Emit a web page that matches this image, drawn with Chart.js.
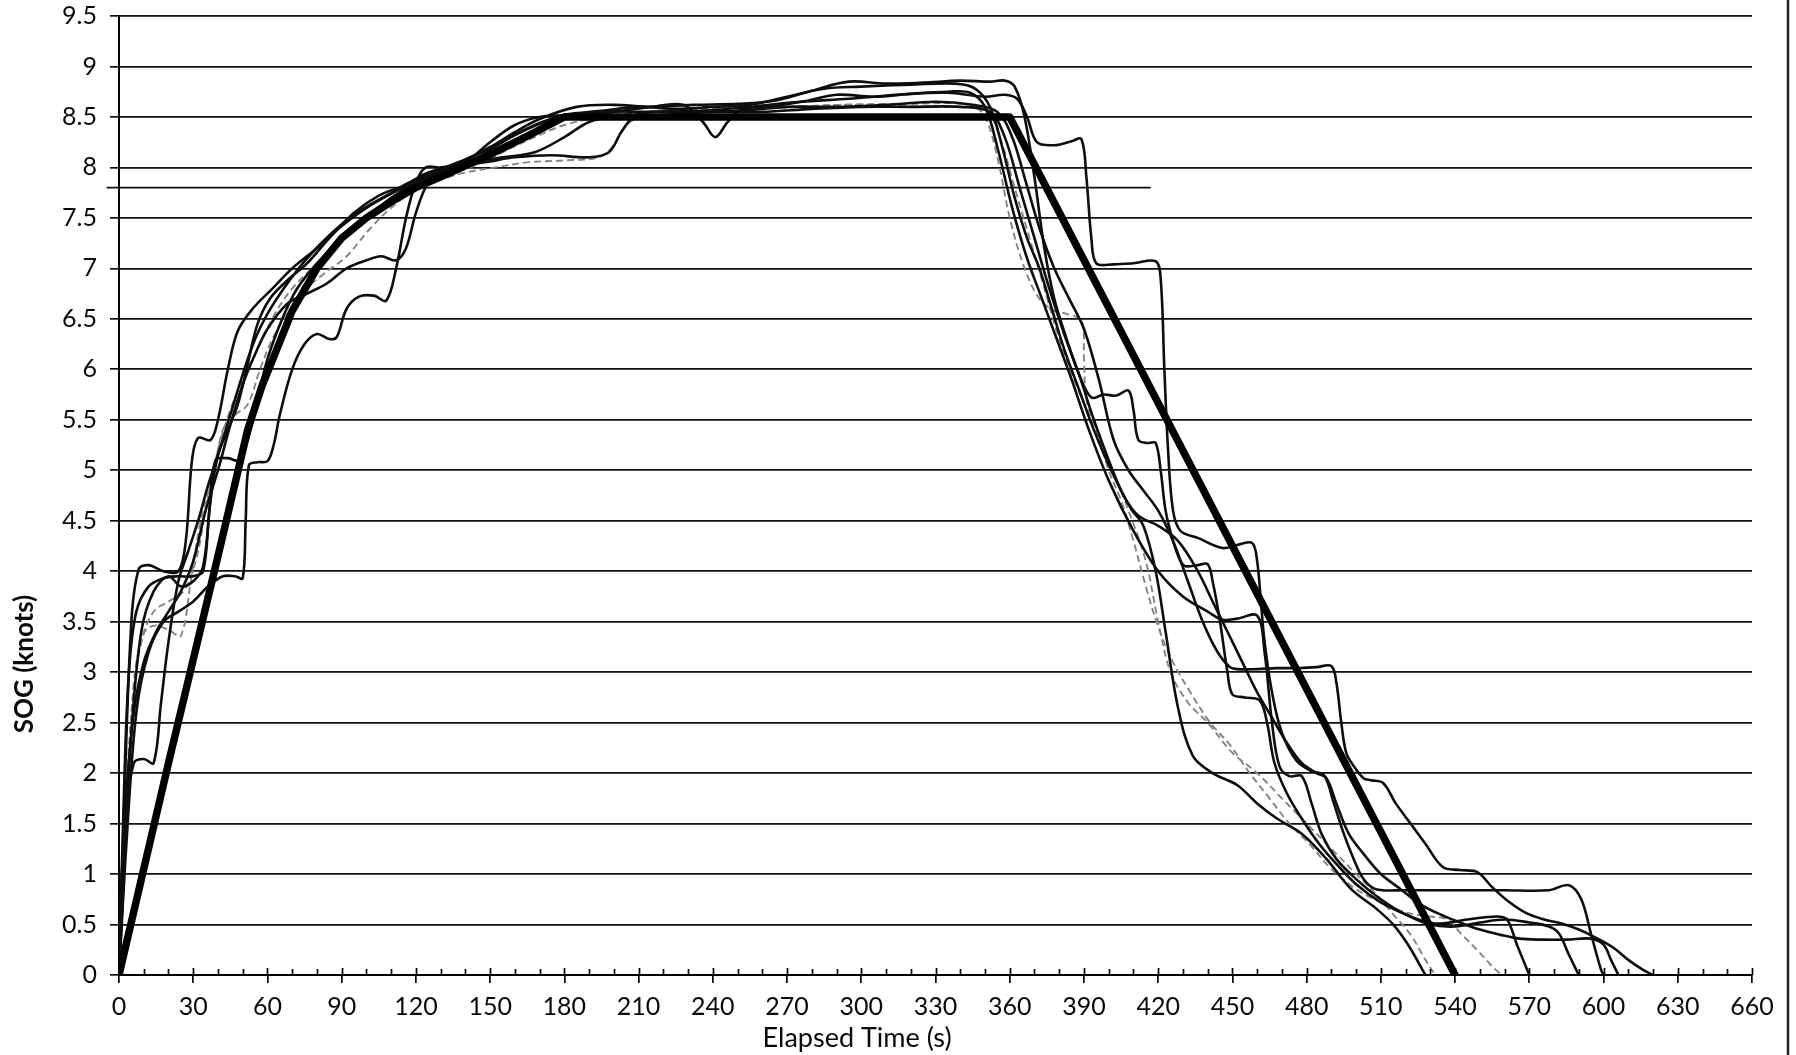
<!DOCTYPE html>
<html>
<head>
<meta charset="utf-8">
<title>SOG vs Elapsed Time</title>
<script src="https://cdn.jsdelivr.net/npm/chart.js@4/dist/chart.umd.min.js"></script>
<style>
  html, body { margin: 0; padding: 0; background: #fff; }
  #wrap { width: 1796px; height: 1055px; position: relative; }
  canvas { display: block; }
</style>
</head>
<body>
<div id="wrap"><canvas id="c"></canvas></div>
<script>
// Axis ticks and titles
const xTicks = [0, 30, 60, 90, 120, 150, 180, 210, 240, 270, 300, 330, 360, 390, 420, 450, 480, 510, 540, 570, 600, 630, 660];
const yTicks = [0, 0.5, 1, 1.5, 2, 2.5, 3, 3.5, 4, 4.5, 5, 5.5, 6, 6.5, 7, 7.5, 8, 8.5, 9, 9.5];
const xTitle = 'Elapsed Time (s)';
const yTitle = 'SOG (knots)';

// Target speed profile: [time s, SOG knots]
const target = [[0,0],[20,2.1],[40,4.15],[52,5.4],[58,5.85],[63,6.15],[70,6.58],[80,7.0],[90,7.3],[100,7.5],[110,7.66],[120,7.8],[135,7.96],[150,8.13],[165,8.31],[180,8.5],[360,8.5],[540,0]];

// Recorded runs: [time s, SOG knots]
const runA = [[0,0],[2,1.6],[5,3.5],[8,4.02],[12,4.06],[18,4.0],[24,4.0],[27,4.3],[29.5,5.1],[32,5.32],[37,5.3],[40,5.5],[44,6.0],[48,6.38],[54,6.6],[62,6.8],[70,7.0],[80,7.2],[90,7.42],[100,7.6],[110,7.74],[120,7.86],[130,7.98],[140,8.08],[150,8.18],[160,8.32],[170,8.44],[180,8.52],[195,8.56],[210,8.6],[225,8.58],[240,8.6],[255,8.62],[270,8.7],[285,8.78],[300,8.8],[320,8.82],[338,8.83],[346,8.78],[352,8.6],[357,8.2],[362,7.7],[367,7.3],[372,7.0],[377,6.6],[382,6.2],[388,5.8],[394,5.4],[401,5.0],[409,4.62],[414,4.45],[419,4.0],[423,3.4],[428,2.65],[434,2.17],[442,2.0],[452,1.88],[460,1.7],[468,1.55],[478,1.4],[488,1.15],[498,0.85],[508,0.66],[515,0.5],[521,0.3],[528,0]];

const runB = [[0,0],[1,0.9],[3,1.6],[6,2.1],[10,2.14],[14,2.1],[17,2.7],[20,3.3],[24,3.9],[28,4.2],[32,4.5],[36,4.85],[40,5.15],[45,5.55],[50,5.95],[55,6.3],[60,6.55],[68,6.85],[76,7.1],[86,7.35],[96,7.55],[108,7.72],[120,7.88],[135,8.02],[150,8.2],[165,8.38],[178,8.5],[195,8.55],[215,8.55],[235,8.56],[255,8.6],[275,8.65],[295,8.68],[315,8.72],[335,8.74],[350,8.7],[358,8.72],[363,8.68],[367,8.5],[371,8.25],[378,8.22],[385,8.26],[389,8.28],[391,7.9],[393,7.3],[395,7.05],[402,7.04],[410,7.05],[419,7.07],[421,6.9],[422.5,6.0],[424,5.2],[426,4.6],[429,4.4],[436,4.33],[446,4.23],[452,4.26],[458,4.28],[460,4.1],[461.5,3.7],[463,3.3],[466,2.8],[470,2.4],[476,2.12],[482,2.02],[487,1.98],[491,1.7],[495,1.4],[499,1.15],[503,0.95],[508,0.85],[520,0.84],[540,0.84],[560,0.84],[578,0.84],[586,0.89],[591,0.75],[595,0.4],[599,0.05],[600,0]];

const runC = [[0,0],[3,1.5],[6,2.9],[10,3.38],[14,3.46],[20,3.42],[25,3.36],[29,3.9],[33,4.5],[38,4.95],[42,5.4],[47,5.55],[52,5.65],[57,6.0],[62,6.3],[68,6.55],[75,6.78],[83,6.95],[92,7.12],[101,7.38],[110,7.6],[120,7.78],[130,7.88],[140,7.95],[152,8.0],[165,8.05],[180,8.07],[194,8.1],[200,8.22],[205,8.42],[212,8.5],[230,8.55],[260,8.58],[290,8.62],[320,8.63],[344,8.62],[350,8.5],[355,8.1],[360,7.5],[366,7.0],[372,6.7],[378,6.58],[383,6.55],[389,6.48],[390,6.1],[391,5.7],[395,5.4],[400,5.0],[405,4.7],[410,4.3],[415,3.85],[420,3.45],[426,3.1],[433,2.8],[441,2.5],[449,2.28],[457,2.0],[465,1.75],[473,1.5],[481,1.3],[490,1.05],[500,0.85],[510,0.72],[520,0.62],[530,0.58],[537,0.55],[542,0.42],[550,0.22],[556,0.06],[559,0]];

const runD = [[0,0],[2,1.2],[5,2.6],[9,3.3],[14,3.6],[20,3.7],[26,3.8],[31,4.1],[35,4.6],[40,5.2],[45,5.6],[50,5.9],[56,6.2],[63,6.55],[70,6.8],[80,7.05],[90,7.3],[100,7.5],[110,7.65],[120,7.8],[130,7.9],[142,8.0],[155,8.15],[168,8.3],[180,8.42],[195,8.5],[215,8.55],[240,8.58],[270,8.6],[300,8.62],[330,8.6],[345,8.6],[350,8.6],[356,8.3],[362,7.8],[368,7.3],[374,6.8],[380,6.3],[386,5.9],[393,5.5],[400,5.1],[408,4.6],[415,4.1],[420,3.5],[425,3.0],[432,2.7],[440,2.5],[450,2.2],[460,2.0],[470,1.75],[480,1.5],[490,1.25],[500,1.0],[508,0.8],[515,0.6],[522,0.4],[528,0.15],[532,0]];

const runE = [[0,0],[2,1.8],[4,3.0],[7,3.6],[12,3.85],[18,3.93],[24,3.95],[30,3.95],[34,4.0],[36.5,4.6],[39,5.1],[44,5.12],[48,5.1],[52,5.3],[56,5.7],[60,6.1],[66,6.5],[72,6.8],[80,7.05],[90,7.3],[100,7.5],[110,7.7],[120,7.85],[130,7.95],[140,8.05],[150,8.25],[160,8.42],[170,8.5],[185,8.52],[200,8.55],[215,8.6],[228,8.62],[236,8.45],[241,8.3],[246,8.45],[252,8.58],[262,8.6],[276,8.65],[290,8.72],[305,8.7],[320,8.73],[335,8.75],[344,8.74],[350,8.6],[355,8.2],[361,7.6],[367,7.1],[373,6.7],[379,6.3],[385,5.9],[392,5.4],[400,4.9],[410,4.4],[420,4.0],[430,3.75],[440,3.6],[446,3.52],[452,3.53],[460,3.56],[463,3.2],[466,2.5],[469,2.07],[473,1.97],[478,1.97],[482,1.7],[486,1.4],[492,1.15],[500,0.95],[510,0.75],[520,0.6],[532,0.51],[545,0.55],[557,0.58],[561,0.55],[565,0.3],[570,0]];

const runF = [[0,0],[2,1.0],[5,2.4],[9,3.4],[14,3.8],[20,3.95],[25,3.85],[30,3.9],[34,4.05],[37,4.7],[40,5.15],[44,5.4],[48,5.65],[52,6.05],[56,6.45],[61,6.7],[68,6.88],[76,7.05],[85,7.3],[95,7.55],[105,7.72],[115,7.82],[125,7.95],[138,8.05],[150,8.2],[160,8.35],[170,8.48],[185,8.6],[200,8.62],[215,8.6],[232,8.62],[250,8.63],[265,8.66],[280,8.76],[295,8.85],[310,8.83],[325,8.84],[340,8.86],[352,8.85],[358,8.86],[362,8.8],[366,8.5],[370,7.9],[374,7.2],[378,6.7],[383,6.3],[388,5.95],[393,5.72],[398,5.75],[403,5.74],[408,5.79],[410,5.6],[412,5.3],[416,5.27],[419,5.27],[421,5.0],[423,4.6],[426,4.3],[429,4.1],[431,4.05],[436,4.06],[440,4.07],[442,3.9],[445,3.5],[448,3.0],[450,2.78],[455,2.75],[461,2.72],[464,2.5],[467,2.1],[472,1.8],[478,1.55],[485,1.3],[492,1.1],[500,0.9],[510,0.72],[520,0.6],[530,0.5],[540,0.48],[550,0.52],[560,0.55],[570,0.52],[578,0.48],[582,0.41],[586,0.2],[590,0]];

const runG = [[0,0],[3,1.3],[7,2.6],[12,3.2],[18,3.5],[24,3.6],[30,3.7],[36,3.85],[42,3.95],[47,3.95],[50,3.93],[51.2,4.5],[52.5,5.05],[56,5.08],[60,5.09],[62.5,5.25],[65,5.55],[70,6.0],[75,6.25],[80,6.35],[85,6.3],[88,6.32],[92,6.6],[97,6.72],[103,6.73],[108,6.68],[112,7.0],[116,7.5],[120,7.85],[124,8.0],[130,8.0],[140,8.02],[150,8.06],[160,8.1],[175,8.12],[190,8.1],[198,8.15],[203,8.35],[208,8.5],[215,8.55],[230,8.55],[250,8.56],[270,8.6],[290,8.6],[310,8.62],[330,8.65],[345,8.62],[355,8.55],[361,8.3],[366,7.9],[372,7.4],[378,7.0],[384,6.7],[390,6.4],[396,5.9],[402,5.3],[408,5.0],[414,4.8],[420,4.6],[426,4.3],[432,3.9],[438,3.5],[444,3.2],[449,3.05],[452,3.03],[460,3.03],[468,3.04],[476,3.04],[484,3.05],[490,3.06],[492,2.9],[494,2.5],[496,2.2],[499,2.07],[503,1.95],[506,1.93],[511,1.9],[516,1.7],[522,1.5],[528,1.3],[535,1.07],[542,1.04],[549,1.02],[555,0.87],[562,0.72],[569,0.61],[576,0.55],[583,0.51],[590,0.45],[596,0.38],[604,0.27],[610,0.15],[616,0.05],[620,0]];

const runH = [[0,0],[1,0.8],[3,1.8],[6,2.6],[10,3.1],[15,3.4],[20,3.6],[25,3.8],[30,4.1],[35,4.6],[40,5.0],[45,5.45],[50,5.85],[55,6.15],[60,6.4],[68,6.65],[76,6.75],[84,6.85],[92,7.0],[100,7.08],[106,7.12],[112,7.08],[116,7.2],[120,7.55],[125,7.85],[132,8.0],[142,8.05],[155,8.1],[168,8.15],[180,8.3],[190,8.45],[200,8.5],[220,8.52],[240,8.55],[260,8.55],[280,8.58],[300,8.6],[320,8.6],[340,8.6],[352,8.55],[358,8.3],[364,7.8],[370,7.3],[376,6.8],[382,6.35],[388,5.95],[394,5.5],[400,5.1],[406,4.75],[412,4.55],[420,4.45],[428,4.3],[436,4.0],[442,3.7],[448,3.4],[454,3.1],[460,2.8],[466,2.55],[472,2.3],[478,2.1],[484,2.0],[488,1.95],[492,1.7],[497,1.4],[503,1.2],[510,1.0],[518,0.85],[526,0.7],[534,0.6],[542,0.52],[550,0.45],[558,0.4],[566,0.36],[575,0.35],[585,0.35],[595,0.36],[600,0.3],[603,0.15],[606,0]];

// Stray horizontal rule across the upper left of the plot
const strayRule = [[-5,7.8],[417,7.8]];

const solidRuns = [runA, runB, runE, runF, runG, runH];
const greyRuns = [runC, runD];

const pts = arr => arr.map(([x, y]) => ({ x, y }));
const FONT = "Lato, 'Open Sans', 'Liberation Sans', sans-serif";

const datasets = [
  { label: 'target', data: pts(target), borderColor: '#000', borderWidth: 7.5, tension: 0, borderJoinStyle: 'round', borderCapStyle: 'round' }
];
solidRuns.forEach((r, i) => datasets.push({
  label: 'run' + i, data: pts(r), borderColor: '#0e0e0e', borderWidth: 2.6, tension: 0.35
}));
greyRuns.forEach((r, i) => datasets.push({
  label: 'grey' + i, data: pts(r), borderColor: '#858585', borderWidth: 1.9, borderDash: [7, 4], tension: 0.35
}));
datasets.push({ label: 'rule', data: pts(strayRule), borderColor: '#111', borderWidth: 1.9, tension: 0, clip: false });

const axisDecor = {
  id: 'axisDecor',
  afterDraw(chart) {
    const { ctx, chartArea: a, scales: { x } } = chart;
    ctx.save();
    // small tick marks above the time axis
    ctx.strokeStyle = '#000';
    ctx.lineWidth = 1.7;
    for (let v = 0; v <= 660; v += 10) {
      const px = Math.round(x.getPixelForValue(v)) + 0.5;
      const len = (v % 30 === 0) ? 7 : 6;
      ctx.beginPath();
      ctx.moveTo(px, a.bottom);
      ctx.lineTo(px, a.bottom - len);
      ctx.stroke();
    }
    // axis titles
    ctx.fillStyle = '#0a0a0a';
    ctx.font = `27px ${FONT}`;
    ctx.textAlign = 'center';
    ctx.textBaseline = 'middle';
    ctx.fillText(xTitle, a.left + (a.right - a.left) * 0.452, 1038);
    ctx.save();
    ctx.translate(25, 664);
    ctx.rotate(-Math.PI / 2);
    ctx.font = `bold 26px ${FONT}`;
    ctx.fillText(yTitle, 0, 0);
    ctx.restore();
    // page edge on the right
    ctx.strokeStyle = '#222';
    ctx.lineWidth = 2.5;
    ctx.beginPath();
    ctx.moveTo(1788, 0);
    ctx.lineTo(1788, 1055);
    ctx.stroke();
    ctx.restore();
  }
};

new Chart(document.getElementById('c'), {
  type: 'line',
  data: { datasets },
  options: {
    responsive: true,
    maintainAspectRatio: false,
    animation: false,
    events: [],
    layout: { padding: { top: 0, right: 44, left: 0, bottom: 0 } },
    elements: { point: { radius: 0 } },
    plugins: { legend: { display: false }, tooltip: { enabled: false } },
    scales: {
      x: {
        type: 'linear', min: 0, max: 660,
        afterBuildTicks: s => { s.ticks = xTicks.map(v => ({ value: v })); },
        afterFit: s => { s.height = 80; },
        grid: { drawOnChartArea: false, drawTicks: true, tickLength: 8, color: '#000', lineWidth: 1.7 },
        border: { display: true, color: '#000', width: 2 },
        ticks: { font: { family: FONT, size: 25 }, color: '#0a0a0a', padding: 9, maxRotation: 0, autoSkip: false }
      },
      y: {
        type: 'linear', min: 0, max: 9.5,
        afterBuildTicks: s => { s.ticks = yTicks.map(v => ({ value: v })); },
        afterFit: s => { s.width = 119; s.paddingTop = 16; s.paddingBottom = 0; },
        grid: { drawOnChartArea: true, drawTicks: true, tickLength: 9, color: '#111', lineWidth: 1.7 },
        border: { display: true, color: '#000', width: 2 },
        ticks: { font: { family: FONT, size: 25 }, color: '#0a0a0a', padding: 13, autoSkip: false, callback: v => String(v) }
      }
    }
  },
  plugins: [axisDecor]
});
</script>
</body>
</html>
